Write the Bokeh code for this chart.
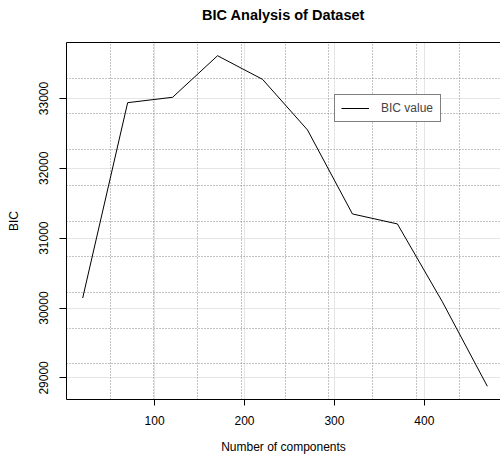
import math
from bokeh.plotting import figure
from bokeh.models import (Range1d, FixedTicker, LinearAxis, Legend, LegendItem, Grid)
from bokeh.embed import file_html
from bokeh.resources import INLINE

# ---- data ----
n_components = [20, 70, 120, 170, 220, 270, 320, 370, 420, 470]
bic_values = [30143, 32940, 33017, 33612, 33274, 32550, 31347, 31204, 30090, 28880]
x_ticks = [100, 200, 300, 400]
y_ticks = [29000, 30000, 31000, 32000, 33000]
title_text = "BIC Analysis of Dataset"
x_label = "Number of components"
y_label = "BIC"
legend_label = "BIC value"

FONT = "Liberation Sans"

# R-like axis limits (4% padding)
xr = max(n_components) - min(n_components)
x_lo, x_hi = min(n_components) - 0.04 * xr, max(n_components) + 0.04 * xr
yr = max(bic_values) - min(bic_values)
y_lo, y_hi = min(bic_values) - 0.04 * yr, max(bic_values) + 0.04 * yr

# the visible frame is cropped on the right (434 of 437 px)
x_end = x_lo + (x_hi - x_lo) * (434.0 / 437.0)

p = figure(width=500, height=456, output_backend="svg", toolbar_location=None,
           x_range=Range1d(x_lo, x_end), y_range=Range1d(y_lo, y_hi),
           min_border_left=66, min_border_right=0, min_border_top=42,
           min_border_bottom=56, x_axis_location=None, y_axis_location=None,
           outline_line_color=None, background_fill_color="white",
           border_fill_color="white", title=None)

# axes
xa = LinearAxis(ticker=FixedTicker(ticks=x_ticks), axis_label=x_label)
ya = LinearAxis(ticker=FixedTicker(ticks=y_ticks), axis_label=y_label)
top = LinearAxis(ticker=FixedTicker(ticks=[]), axis_label=title_text)
for ax in (xa, ya, top):
    ax.axis_line_color = "black"
    ax.axis_line_width = 1
    ax.major_tick_line_color = "black"
    ax.major_tick_in = 0
    ax.minor_tick_line_color = None
    ax.major_label_text_font = FONT
    ax.major_label_text_font_size = "12px"
    ax.major_label_text_color = "black"
    ax.axis_label_text_font = FONT
    ax.axis_label_text_font_size = "12px"
    ax.axis_label_text_font_style = "normal"
    ax.axis_label_text_color = "black"
xa.major_tick_out = 6
xa.major_label_standoff = 10
xa.axis_label_standoff = 12
ya.major_tick_out = 7
ya.major_label_standoff = 11
ya.major_label_orientation = "vertical"
ya.axis_label_standoff = 16
# top box edge carries the main title
top.major_tick_out = 0
top.major_label_standoff = 0
top.axis_label_text_font_style = "bold"
top.axis_label_text_font_size = "14.5px"
top.axis_label_standoff = 20
p.add_layout(xa, "below")
p.add_layout(ya, "left")
p.add_layout(top, "above")

# grid like R grid(10, 10)
gx = Grid(dimension=0, ticker=FixedTicker(ticks=[x_lo + (x_hi - x_lo) * k / 10 for k in range(1, 10)]))
gy = Grid(dimension=1, ticker=FixedTicker(ticks=[y_lo + (y_hi - y_lo) * k / 10 for k in range(1, 10)]))
for g in (gx, gy):
    g.grid_line_color = "#888888"
    g.grid_line_dash = "1 2"
    g.grid_line_width = 1
    p.add_layout(g)

r = p.line(n_components, bic_values, line_color="black", line_width=1)

legend = Legend(items=[LegendItem(label=legend_label, renderers=[r])],
                location=(268, 277), padding=6, glyph_width=28, glyph_height=12,
                label_height=12, label_standoff=12, label_width=53, margin=0,
                label_text_font=FONT, label_text_font_size="12px",
                border_line_color="black", border_line_width=1,
                background_fill_color="white", background_fill_alpha=1.0)
p.add_layout(legend, "center")

open("out.html", "w").write(file_html(p, INLINE))
